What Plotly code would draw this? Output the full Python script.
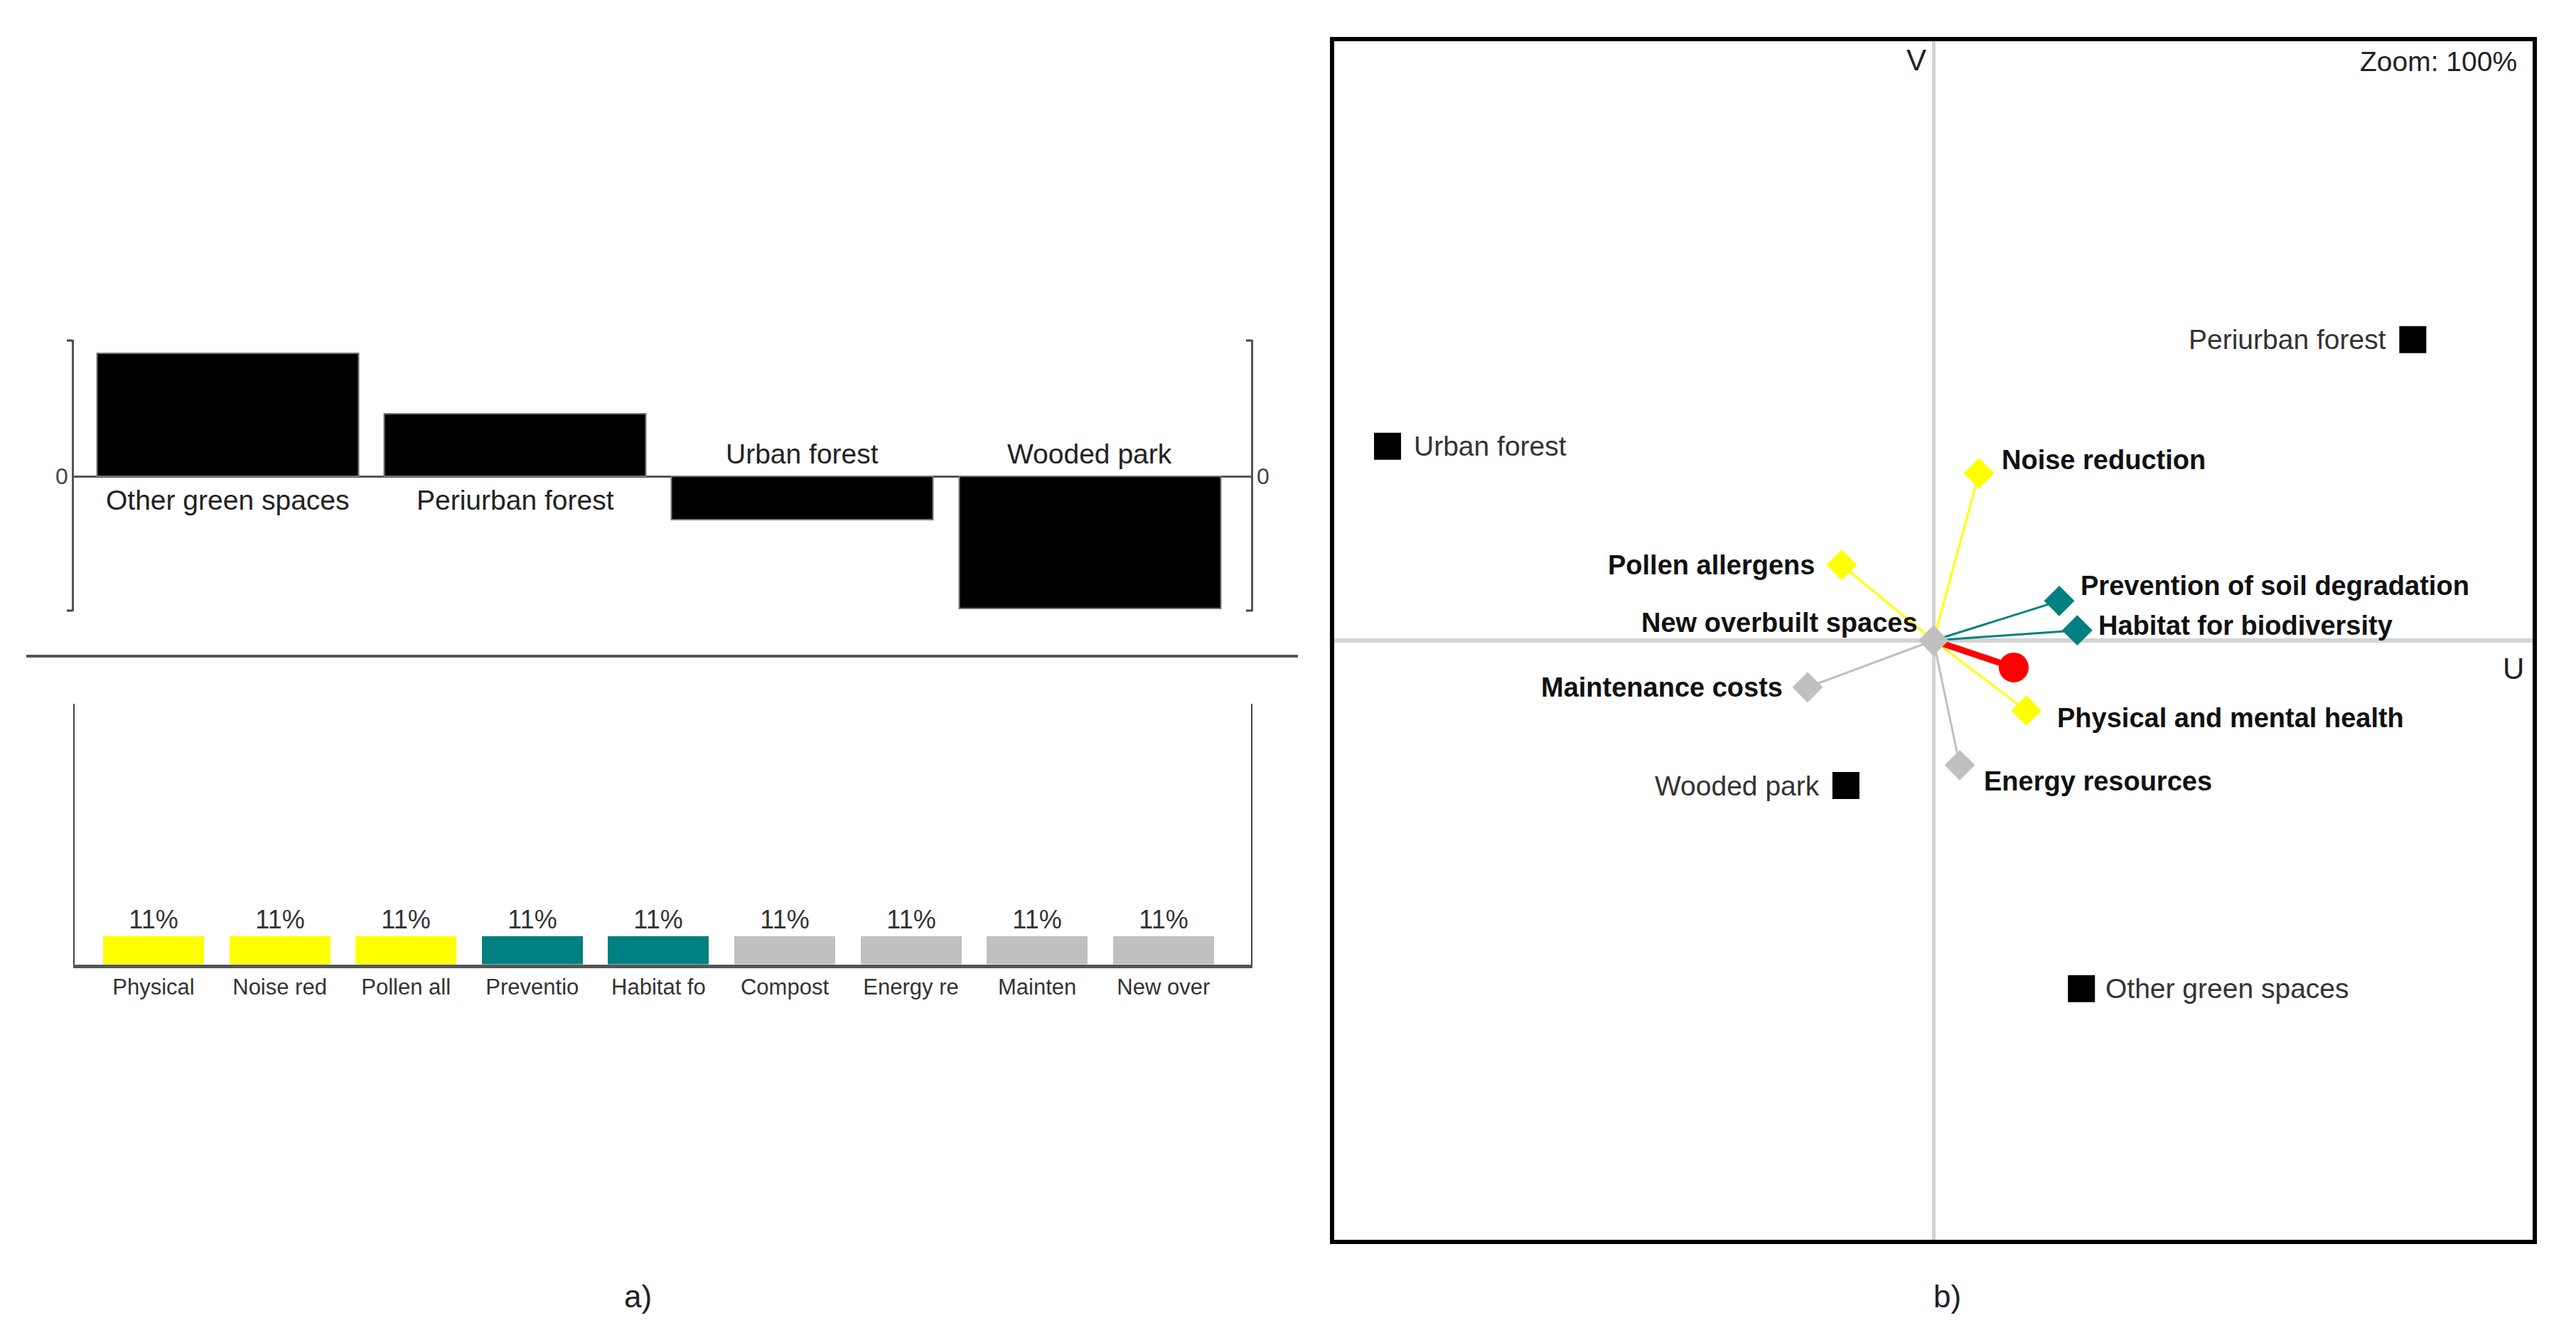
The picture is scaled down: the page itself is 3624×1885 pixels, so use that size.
import plotly.graph_objects as go

# ---- data ----
# a) top: PROMETHEE-style net flows of the alternatives
ALTERNATIVES = ["Other green spaces", "Periurban forest", "Urban forest", "Wooded park"]
NET_FLOW = [0.173, 0.088, -0.061, -0.186]

# a) bottom: criteria weights (%)
WEIGHT_LABELS = ["Physical", "Noise red", "Pollen all", "Preventio", "Habitat fo",
                 "Compost", "Energy re", "Mainten", "New over"]
WEIGHTS = [11, 11, 11, 11, 11, 11, 11, 11, 11]
WEIGHT_GROUP = ["social", "social", "social", "env", "env", "econ", "econ", "econ", "econ"]

# b) GAIA plane: criteria, alternatives and decision axis (U, V)
CRITERIA = ["Noise reduction", "Pollen allergens", "Prevention of soil degradation",
            "Habitat for biodiversity", "New overbuilt spaces", "Maintenance costs",
            "Physical and mental health", "Energy resources"]
CRIT_U = [0.076, -0.153, 0.210, 0.240, 0.0, -0.210, 0.155, 0.044]
CRIT_V = [0.279, 0.126, 0.066, 0.017, 0.0, -0.078, -0.117, -0.208]
CRIT_GROUP = ["social", "social", "env", "env", "econ", "econ", "social", "econ"]

ALT_NAMES = ["Periurban forest", "Urban forest", "Wooded park", "Other green spaces"]
ALT_U = [0.800, -0.911, -0.146, 0.247]
ALT_V = [0.502, 0.324, -0.242, -0.581]

DECISION_U = 0.134
DECISION_V = -0.045

# ---- styling ----
W, H = 3624, 1885
BODY = 8  # default page margin around the plot div
FW, FH = W - 2 * BODY, H - 2 * BODY
FONT = "Liberation Sans, Arial, sans-serif"
GROUP_COLOR = {"social": "#ffff00", "env": "#008080", "econ": "#c0c0c0"}

# label offsets (px) in the GAIA plane: (xshift, yshift)
LABEL_OFFSET = {
    "Periurban forest": (-35, 0), "Urban forest": (35, 0),
    "Wooded park": (-35, 0), "Other green spaces": (32, 0),
    "Noise reduction": (30, 19), "Pollen allergens": (-36, 0),
    "Prevention of soil degradation": (28, 21), "Habitat for biodiversity": (28, 7),
    "New overbuilt spaces": (-20, 25), "Maintenance costs": (-33, 0),
    "Physical and mental health": (41, -10), "Energy resources": (32, -23),
}


def px(x):
    return (x - BODY) / FW


def py(y):
    return 1 - (y - BODY) / FH


def note(x, y, text, size, **kw):
    return dict(x=px(x), y=py(y), xref="paper", yref="paper", text=text,
                showarrow=False, xanchor=kw.get("xanchor", "center"), yanchor="middle",
                font=dict(family=FONT, size=size, color="#222"))


fig = go.Figure()

# ---- a) top: net flow bars ----
fig.add_trace(go.Bar(
    x=ALTERNATIVES, y=NET_FLOW, width=0.91,
    marker=dict(color="black", line=dict(color="#777", width=2)),
    xaxis="x", yaxis="y", showlegend=False, hoverinfo="x+y",
))

annotations = []
for name, val in zip(ALTERNATIVES, NET_FLOW):
    annotations.append(dict(
        x=name, y=0, xref="x", yref="y", text=name, showarrow=False,
        yanchor="top" if val > 0 else "bottom", yshift=-10 if val > 0 else 8,
        font=dict(family=FONT, size=39, color="#222"),
    ))
for side in (0, 1):
    annotations.append(dict(
        x=side, y=0, xref="x domain", yref="y", text="0", showarrow=False,
        xanchor="right" if side == 0 else "left", yanchor="middle",
        xshift=-6 if side == 0 else 6,
        font=dict(family=FONT, size=32, color="#444"),
    ))

# ---- a) bottom: weight bars ----
fig.add_trace(go.Bar(
    x=WEIGHT_LABELS, y=WEIGHTS, width=0.80,
    marker=dict(color=[GROUP_COLOR[g] for g in WEIGHT_GROUP], line=dict(width=0)),
    texttemplate="%{y:.0f}%", textposition="outside", cliponaxis=False,
    textfont=dict(family=FONT, size=36, color="#333"),
    xaxis="x2", yaxis="y2", showlegend=False,
))

# ---- b) GAIA plane ----
for u, v, g in zip(CRIT_U, CRIT_V, CRIT_GROUP):
    fig.add_trace(go.Scatter(
        x=[0, u], y=[0, v], mode="lines",
        line=dict(color=GROUP_COLOR[g], width=3),
        xaxis="x3", yaxis="y3", showlegend=False, hoverinfo="skip",
    ))
fig.add_trace(go.Scatter(
    x=[0, DECISION_U], y=[0, DECISION_V], mode="lines",
    line=dict(color="#ff0000", width=9),
    xaxis="x3", yaxis="y3", showlegend=False, hoverinfo="skip",
))
fig.add_trace(go.Scatter(
    x=CRIT_U, y=CRIT_V, mode="markers", text=CRITERIA, hoverinfo="text",
    marker=dict(symbol="diamond", size=33, color=[GROUP_COLOR[g] for g in CRIT_GROUP]),
    xaxis="x3", yaxis="y3", showlegend=False,
))
fig.add_trace(go.Scatter(
    x=[DECISION_U], y=[DECISION_V], mode="markers",
    marker=dict(symbol="circle", size=42, color="#ff0000"),
    xaxis="x3", yaxis="y3", showlegend=False, hoverinfo="skip",
))
fig.add_trace(go.Scatter(
    x=ALT_U, y=ALT_V, mode="markers", text=ALT_NAMES, hoverinfo="text",
    marker=dict(symbol="square", size=38, color="black"),
    xaxis="x3", yaxis="y3", showlegend=False,
))

for name, u, v in zip(CRITERIA, CRIT_U, CRIT_V):
    dx, dy = LABEL_OFFSET[name]
    annotations.append(dict(
        x=u, y=v, xref="x3", yref="y3", text="<b>%s</b>" % name, showarrow=False,
        xanchor="left" if dx > 0 else "right", yanchor="middle", xshift=dx, yshift=dy,
        font=dict(family=FONT, size=38, color="#111"),
    ))
for name, u, v in zip(ALT_NAMES, ALT_U, ALT_V):
    dx, dy = LABEL_OFFSET[name]
    annotations.append(dict(
        x=u, y=v, xref="x3", yref="y3", text=name, showarrow=False,
        xanchor="left" if dx > 0 else "right", yanchor="middle", xshift=dx, yshift=dy,
        font=dict(family=FONT, size=39, color="#333"),
    ))

annotations += [
    note(2696, 85, "V", 42),
    note(3536, 941, "U", 42),
    note(3543, 86, "Zoom: 100%", 39, xanchor="right"),
    note(897, 1823, "a)", 44),
    note(2739, 1823, "b)", 44),
]

shapes = [
    # separator between the two parts of a)
    dict(type="line", xref="paper", yref="paper", x0=px(37), x1=px(1826),
         y0=py(923), y1=py(923), line=dict(color="#555", width=4)),
]
# little bracket stubs of the net flow axis
for x in (102, 1761):
    for y in (479, 859):
        shapes.append(dict(type="line", xref="paper", yref="paper",
                           x0=px(x - 8), x1=px(x), y0=py(y), y1=py(y),
                           line=dict(color="#444", width=3)))

hidden = dict(showgrid=False, zeroline=False, showticklabels=False, ticks="")

fig.update_layout(
    width=FW, height=FH, autosize=False,
    margin=dict(l=0, r=0, t=0, b=0),
    paper_bgcolor="white", plot_bgcolor="white",
    font=dict(family=FONT, color="#222"),
    bargap=0,
    xaxis=dict(hidden, domain=[px(103.5), px(1759.5)], range=[-0.536, 3.560],
               type="category", anchor="y"),
    yaxis=dict(hidden, domain=[py(860), py(478)], range=[-0.190, 0.192], anchor="x",
               zeroline=True, zerolinecolor="#555", zerolinewidth=3,
               showline=True, mirror=True, linecolor="#555", linewidth=3),
    xaxis2=dict(hidden, domain=[px(105), px(1760)], range=[-0.625, 8.694],
                type="category", anchor="y2", showticklabels=True,
                tickfont=dict(family=FONT, size=31, color="#333"),
                showline=True, linecolor="#555", linewidth=5, ticklabelstandoff=0),
    yaxis2=dict(hidden, domain=[py(1356.5), py(990)], range=[0, 102], anchor="x2",
                showline=True, mirror=True, linecolor="#444", linewidth=2),
    xaxis3=dict(hidden, domain=[px(1877), px(3563)], range=[-1, 1], anchor="y3",
                zeroline=True, zerolinecolor="#d3d3d3", zerolinewidth=5,
                showline=True, mirror=True, linecolor="black", linewidth=6),
    yaxis3=dict(hidden, domain=[py(1744), py(58)], range=[-1, 1], anchor="x3",
                zeroline=True, zerolinecolor="#d3d3d3", zerolinewidth=6,
                showline=True, mirror=True, linecolor="black", linewidth=6),
    annotations=annotations,
    shapes=shapes,
)

fig.write_html("out.html")
